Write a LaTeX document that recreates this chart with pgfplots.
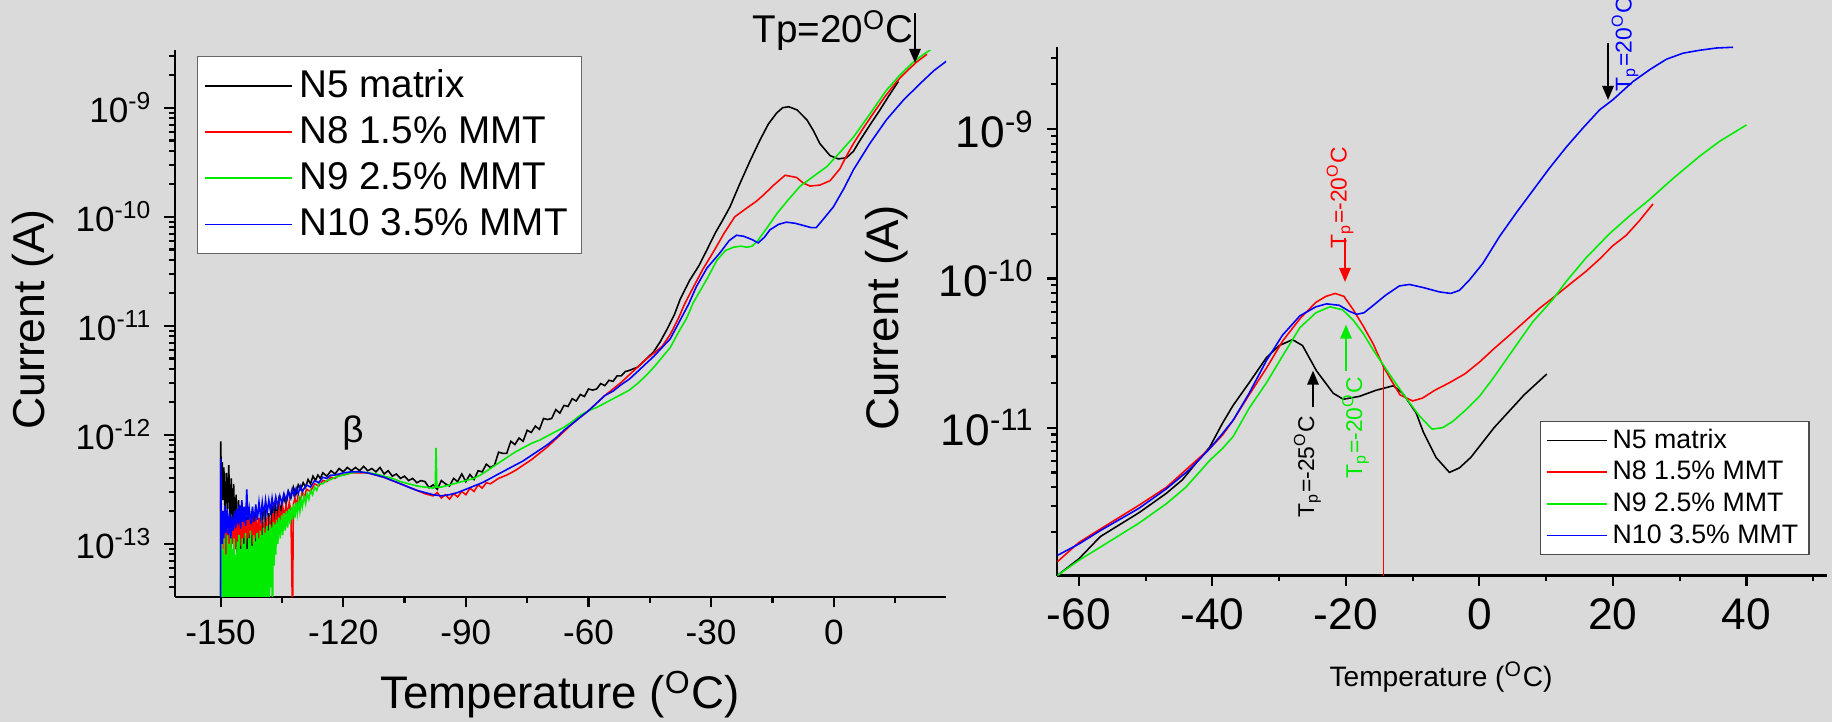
\documentclass[border=0pt]{standalone}
\usepackage{pgfplots}
\pgfplotsset{compat=1.18}
\usepackage{fontspec}
\setmainfont{Liberation Sans}
\usetikzlibrary{arrows.meta}
\definecolor{bgc}{RGB}{218,218,218}
\definecolor{cR}{RGB}{255,0,0}
\definecolor{cG}{RGB}{0,235,0}
\definecolor{cB}{RGB}{0,0,255}
\pgfplotsset{
  tscstyle/.style={
    scale only axis,
    axis x line*=bottom, axis y line*=left,
    axis line style={line width=0.6pt},
    tick align=outside,
    major tick length=3pt, minor tick length=1.7pt,
    every tick/.style={line width=0.6pt, black},
    clip mode=individual,
    legend cell align=left,
    no markers,
  }
}
\begin{document}
\begin{tikzpicture}
\path[use as bounding box, fill=bgc] (0,0) rectangle (18.32,7.22);
% ---------------- LEFT PANEL ----------------
\begin{axis}[ymode=log, tscstyle,
  at={(1.75cm,1.253cm)}, anchor=south west,
  width=7.71cm, height=5.467cm,
  xmin=-161.15, xmax=27.45, ymin=3.27e-14, ymax=3.38e-9,
  xtick={-150,-120,-90,-60,-30,0}, xticklabels={-150,-120,-90,-60,-30,0},
  minor xtick={-135,-105,-75,-45,-15,15},
  ytick={1e-13,1e-12,1e-11,1e-10,1e-9},
  yticklabels={{10\textsuperscript{-13}},{10\textsuperscript{-12}},{10\textsuperscript{-11}},{10\textsuperscript{-10}},{10\textsuperscript{-9}}},
  minor ytick={4e-14,5e-14,6e-14,7e-14,8e-14,9e-14,2e-13,3e-13,4e-13,5e-13,6e-13,7e-13,8e-13,9e-13,2e-12,3e-12,4e-12,5e-12,6e-12,7e-12,8e-12,9e-12,2e-11,3e-11,4e-11,5e-11,6e-11,7e-11,8e-11,9e-11,2e-10,3e-10,4e-10,5e-10,6e-10,7e-10,8e-10,9e-10,2e-9,3e-9},
  ticklabel style={font=\fontsize{10}{12}\selectfont},
  xlabel={Temperature (\textsuperscript{O}C)},
  xlabel style={at={(axis description cs:0.4994,-0.179)}, anchor=center, font=\fontsize{13}{15}\selectfont},
  ylabel={Current (A)},
  ylabel style={at={(axis description cs:-0.184,0.507)}, anchor=center, font=\fontsize{12.7}{15}\selectfont},
  legend style={at={(0.0281,0.989)}, anchor=north west, draw=black!60, fill=white,
    font=\fontsize{11}{13}\selectfont, inner xsep=2pt, inner ysep=1.7pt, row sep=0pt,
    nodes={inner xsep=1.8pt, inner ysep=1.67pt, text height=8.2pt, text depth=1.6pt}},
  legend image code/.code={\draw[#1] (0cm,0cm) -- (0.87cm,0cm);},
]
\addplot[black, line width=0.45pt] coordinates {
(-150.0,2e-14) (-149.95,8.71e-13) (-149.8,2.82e-13) (-149.6,5.62e-13) (-149.4,2.51e-13) (-149.2,5.01e-13) (-148.9,1.78e-13) (-148.6,4.47e-13) (-148.3,2.09e-13) (-148.0,5.25e-13) (-147.7,1.58e-13) (-147.4,3.98e-13) (-147.1,1.41e-13) (-146.8,3.55e-13) (-146.5,1.12e-13) (-146.2,2.82e-13) (-145.9,7.94e-14) (-145.6,2.51e-13) (-145.3,5.01e-14) (-145.0,2.24e-13) (-144.6,2e-14) (-144.3,2.00e-13) (-144.0,6.31e-14) (-143.6,1.78e-13) (-143.2,2e-14) (-142.9,2.00e-13) (-142.5,5.01e-14) (-142.2,1.78e-13) (-141.8,2e-14) (-141.4,1.91e-13) (-141.0,6.31e-14) (-140.6,1.66e-13) (-140.2,2e-14) (-139.8,2.00e-13) (-139.4,7.94e-14) (-139.0,2.09e-13) (-138.6,2e-14) (-138.2,1.91e-13) (-137.8,1.00e-13) (-137.4,2.24e-13) (-137.0,1.26e-13) (-136.6,2.40e-13) (-136.2,1.58e-13) (-135.8,2.51e-13) (-135.2,2.00e-13) (-134.6,2.75e-13) (-134.0,2.29e-13) (-133.4,3.02e-13) (-132.8,2.63e-13) (-132.2,3.31e-13) (-131.6,2.82e-13) (-131.0,3.47e-13) (-130.4,3.16e-13) (-129.8,3.63e-13) (-129.2,3.31e-13) (-128.6,3.89e-13) (-128.0,3.55e-13) (-127.4,4.17e-13) (-126.8,3.80e-13) (-126.2,4.27e-13) (-125.6,3.98e-13) (-125.0,4.47e-13) (-124.0,4.17e-13) (-123.0,4.68e-13) (-122.0,4.37e-13) (-121.0,4.90e-13) (-120.0,4.57e-13) (-119.0,5.01e-13) (-118.0,4.68e-13) (-117.0,5.01e-13) (-116.0,4.68e-13) (-115.0,5.13e-13) (-114.0,4.68e-13) (-113.0,4.90e-13) (-112.0,4.57e-13) (-111.0,5.01e-13) (-110.0,4.37e-13) (-109.0,4.68e-13) (-108.0,4.17e-13) (-107.0,4.37e-13) (-106.0,3.98e-13) (-105.0,4.17e-13) (-104.0,3.80e-13) (-103.0,3.98e-13) (-102.0,3.63e-13) (-101.0,3.80e-13) (-100.0,3.72e-13) (-99.0,3.27e-13) (-98.0,3.47e-13) (-97.0,3.16e-13) (-96.0,3.80e-13) (-95.0,3.55e-13) (-94.0,3.39e-13) (-93.0,3.98e-13) (-92.0,3.72e-13) (-91.0,4.37e-13) (-90.0,3.72e-13) (-89.0,4.32e-13) (-88.0,3.89e-13) (-87.0,4.68e-13) (-86.0,4.57e-13) (-85.0,5.37e-13) (-84.0,5.01e-13) (-83.0,5.25e-13) (-82.0,6.92e-13) (-81.0,6.76e-13) (-80.0,6.76e-13) (-79.0,8.71e-13) (-78.0,8.13e-13) (-77.0,9.33e-13) (-76.0,8.71e-13) (-75.0,1.10e-12) (-74.0,1.05e-12) (-73.0,1.20e-12) (-72.0,1.12e-12) (-71.0,1.41e-12) (-70.0,1.38e-12) (-69.0,1.41e-12) (-68.0,1.70e-12) (-67.0,1.58e-12) (-66.0,1.86e-12) (-65.0,1.82e-12) (-64.0,2.14e-12) (-63.0,2.04e-12) (-62.0,2.34e-12) (-61.0,2.24e-12) (-60.0,2.63e-12) (-59.0,2.57e-12) (-58.0,2.63e-12) (-57.0,2.95e-12) (-56.0,2.82e-12) (-55.0,3.16e-12) (-54.0,3.09e-12) (-53.0,3.47e-12) (-52.0,3.47e-12) (-51.0,3.80e-12) (-50.0,3.89e-12) (-48.0,4.17e-12) (-47.4,4.37e-12) (-46.0,4.90e-12) (-44.1,5.75e-12) (-42.5,7.08e-12) (-40.9,9.12e-12) (-39.0,1.26e-11) (-37.6,1.74e-11) (-35.2,2.63e-11) (-33.0,3.55e-11) (-31.1,4.90e-11) (-29.0,7.08e-11) (-27.0,9.55e-11) (-25.4,1.23e-10) (-23.0,2.00e-10) (-20.5,3.24e-10) (-18.1,5.01e-10) (-16.0,7.08e-10) (-14.0,8.91e-10) (-12.5,1.00e-9) (-11.0,1.02e-9) (-9.0,9.55e-10) (-6.6,7.76e-10) (-5.0,6.17e-10) (-3.4,4.68e-10) (-0.9,3.63e-10) (1.1,3.39e-10) (3.1,3.47e-10) (4.8,3.98e-10) (6.4,5.01e-10) (9.0,7.08e-10) (11.3,9.55e-10) (13.5,1.29e-9) (15.8,1.74e-9)
};
\addlegendentry{N5 matrix}
\addplot[cR, line width=0.45pt] coordinates {
(-150.0,2.51e-13) (-149.8,1.26e-13) (-149.6,2.00e-13) (-149.3,7.94e-14) (-149.0,1.58e-13) (-148.7,7.08e-14) (-148.4,1.41e-13) (-148.1,8.91e-14) (-147.8,1.58e-13) (-147.5,7.94e-14) (-147.2,1.41e-13) (-146.9,1.00e-13) (-146.6,1.51e-13) (-146.3,8.91e-14) (-146.0,1.58e-13) (-145.7,1.05e-13) (-145.4,1.66e-13) (-145.1,9.55e-14) (-144.8,1.58e-13) (-144.5,1.12e-13) (-144.2,1.74e-13) (-143.9,1.00e-13) (-143.6,1.66e-13) (-143.3,1.12e-13) (-143.0,1.82e-13) (-142.7,1.20e-13) (-142.4,1.74e-13) (-142.1,1.00e-13) (-141.8,1.82e-13) (-141.5,1.12e-13) (-141.2,1.78e-13) (-140.9,8.91e-14) (-140.6,1.74e-13) (-140.3,7.08e-14) (-140.0,1.66e-13) (-139.6,2e-14) (-139.3,1.58e-13) (-139.0,5.01e-14) (-138.7,1.74e-13) (-138.3,2e-14) (-138.0,1.78e-13) (-137.6,1.00e-13) (-137.2,1.91e-13) (-136.8,1.26e-13) (-136.4,2.00e-13) (-136.0,1.41e-13) (-135.6,2.09e-13) (-135.2,1.58e-13) (-134.8,2.19e-13) (-134.4,1.74e-13) (-134.0,2.29e-13) (-133.6,1.82e-13) (-133.2,2.40e-13) (-132.8,2.00e-13) (-132.4,2e-14) (-132.2,2.29e-13) (-131.8,2.63e-13) (-131.4,2.19e-13) (-131.0,2.82e-13) (-130.5,2.40e-13) (-130.0,3.02e-13) (-129.5,2.63e-13) (-129.0,3.16e-13) (-128.0,3.02e-13) (-127.0,3.55e-13) (-126.0,3.39e-13) (-125.0,3.80e-13) (-124.0,3.72e-13) (-123.0,4.07e-13) (-122.0,3.98e-13) (-121.0,4.27e-13) (-120.0,4.27e-13) (-118.0,4.47e-13) (-116.0,4.47e-13) (-114.0,4.47e-13) (-112.0,4.27e-13) (-110.0,4.07e-13) (-108.0,3.80e-13) (-106.0,3.55e-13) (-104.0,3.31e-13) (-102.0,3.09e-13) (-100.0,2.88e-13) (-98.0,2.75e-13) (-97.0,2.95e-13) (-96.0,2.63e-13) (-95.0,2.82e-13) (-94.0,2.57e-13) (-93.0,2.88e-13) (-92.0,2.69e-13) (-91.0,3.02e-13) (-90.0,2.82e-13) (-89.0,3.24e-13) (-88.0,3.02e-13) (-87.0,3.47e-13) (-86.0,3.24e-13) (-85.0,3.63e-13) (-84.0,3.55e-13) (-82.0,3.98e-13) (-80.0,4.27e-13) (-78.0,4.68e-13) (-76.0,5.25e-13) (-74.0,5.89e-13) (-72.0,6.76e-13) (-70.0,7.76e-13) (-68.0,9.12e-13) (-66.0,1.07e-12) (-64.0,1.26e-12) (-62.0,1.45e-12) (-60.0,1.66e-12) (-58.0,1.95e-12) (-56.0,2.29e-12) (-54.0,2.63e-12) (-52.0,3.02e-12) (-50.0,3.55e-12) (-48.0,4.17e-12) (-46.0,4.90e-12) (-44.0,5.62e-12) (-42.0,6.46e-12) (-40.0,8.32e-12) (-38.0,1.17e-11) (-36.5,1.58e-11) (-34.4,2.24e-11) (-32.0,3.31e-11) (-29.4,4.79e-11) (-26.8,7.08e-11) (-24.2,1.00e-10) (-21.3,1.20e-10) (-19.0,1.38e-10) (-17.2,1.58e-10) (-14.7,1.95e-10) (-11.9,2.40e-10) (-9.1,2.29e-10) (-7.5,2.04e-10) (-5.8,1.91e-10) (-3.4,1.95e-10) (-0.9,2.14e-10) (1.5,2.75e-10) (3.0,3.55e-10) (4.8,4.68e-10) (7.0,6.31e-10) (9.7,8.91e-10) (12.5,1.26e-9) (15.4,1.74e-9) (18.0,2.19e-9) (20.3,2.63e-9) (22.8,3.09e-9)
};
\addlegendentry{N8 1.5\% MMT}
\addplot[cG, line width=0.45pt] coordinates {
(-150.0,2e-14) (-149.9,1.12e-13) (-149.7,2e-14) (-149.5,8.91e-14) (-149.3,2e-14) (-149.1,1.26e-13) (-148.9,2e-14) (-148.7,7.94e-14) (-148.5,2e-14) (-148.3,1.20e-13) (-148.1,2e-14) (-147.9,1.00e-13) (-147.7,2e-14) (-147.5,1.32e-13) (-147.3,2e-14) (-147.1,8.91e-14) (-146.9,2e-14) (-146.7,1.12e-13) (-146.5,2e-14) (-146.3,7.94e-14) (-146.1,2e-14) (-145.9,1.05e-13) (-145.7,2e-14) (-145.5,1.20e-13) (-145.3,2e-14) (-145.1,8.91e-14) (-144.9,2e-14) (-144.7,1.12e-13) (-144.5,2e-14) (-144.3,1.00e-13) (-144.1,2e-14) (-143.9,1.26e-13) (-143.7,2e-14) (-143.5,8.91e-14) (-143.3,2e-14) (-143.1,1.12e-13) (-142.9,2e-14) (-142.7,1.32e-13) (-142.5,2e-14) (-142.3,9.55e-14) (-142.1,2e-14) (-141.9,1.20e-13) (-141.7,2e-14) (-141.5,1.05e-13) (-141.3,2e-14) (-141.1,1.26e-13) (-140.9,2e-14) (-140.7,1.12e-13) (-140.5,2e-14) (-140.3,1.32e-13) (-140.1,2e-14) (-139.9,1.20e-13) (-139.7,2e-14) (-139.5,1.41e-13) (-139.3,2e-14) (-139.1,1.26e-13) (-138.9,2e-14) (-138.7,1.45e-13) (-138.5,2e-14) (-138.3,1.32e-13) (-138.1,2e-14) (-137.9,1.51e-13) (-137.7,3.98e-14) (-137.5,1.41e-13) (-137.3,2e-14) (-137.1,1.58e-13) (-136.9,6.31e-14) (-136.7,1.51e-13) (-136.5,7.94e-14) (-136.3,1.66e-13) (-136.0,1.00e-13) (-135.7,1.74e-13) (-135.4,1.12e-13) (-135.1,1.82e-13) (-134.8,1.20e-13) (-134.5,1.91e-13) (-134.2,1.32e-13) (-133.9,2.00e-13) (-133.6,1.41e-13) (-133.3,2.09e-13) (-133.0,1.51e-13) (-132.7,2.19e-13) (-132.4,1.66e-13) (-132.1,2.29e-13) (-131.8,1.74e-13) (-131.5,2.40e-13) (-131.2,1.91e-13) (-130.9,2.51e-13) (-130.6,2.00e-13) (-130.3,2.57e-13) (-130.0,2.19e-13) (-129.6,2.75e-13) (-129.2,2.34e-13) (-128.8,2.88e-13) (-128.4,2.57e-13) (-128.0,3.09e-13) (-127.5,2.82e-13) (-127.0,3.31e-13) (-126.5,3.09e-13) (-126.0,3.55e-13) (-125.0,3.55e-13) (-124.0,3.80e-13) (-123.0,3.89e-13) (-122.0,4.07e-13) (-121.0,4.17e-13) (-120.0,4.27e-13) (-118.0,4.47e-13) (-116.0,4.57e-13) (-114.0,4.47e-13) (-112.0,4.37e-13) (-110.0,4.17e-13) (-108.0,3.98e-13) (-106.0,3.72e-13) (-104.0,3.55e-13) (-102.0,3.39e-13) (-100.0,3.31e-13) (-98.0,3.24e-13) (-97.5,3.31e-13) (-97.3,7.59e-13) (-97.1,3.31e-13) (-96.0,3.31e-13) (-94.0,3.47e-13) (-92.0,3.63e-13) (-90.0,3.80e-13) (-88.0,3.98e-13) (-86.0,4.37e-13) (-84.0,4.90e-13) (-82.0,5.50e-13) (-80.0,6.17e-13) (-78.0,6.92e-13) (-76.0,7.59e-13) (-74.0,8.32e-13) (-72.0,8.91e-13) (-70.0,9.77e-13) (-68.0,1.07e-12) (-66.0,1.17e-12) (-64.0,1.32e-12) (-62.0,1.51e-12) (-60.0,1.66e-12) (-58.0,1.78e-12) (-56.0,1.95e-12) (-54.0,2.14e-12) (-52.0,2.34e-12) (-50.0,2.57e-12) (-48.0,2.95e-12) (-46.0,3.47e-12) (-44.0,4.17e-12) (-42.0,5.13e-12) (-40.0,6.31e-12) (-38.0,8.71e-12) (-36.0,1.17e-11) (-34.4,1.62e-11) (-33.0,2.00e-11) (-31.0,2.69e-11) (-28.6,3.98e-11) (-26.5,4.90e-11) (-24.5,5.25e-11) (-22.8,5.37e-11) (-21.2,5.25e-11) (-20.0,5.37e-11) (-18.8,5.89e-11) (-16.3,7.94e-11) (-13.9,1.07e-10) (-11.0,1.45e-10) (-8.2,1.91e-10) (-5.0,2.34e-10) (-1.7,2.88e-10) (1.5,3.89e-10) (4.8,5.37e-10) (8.8,8.71e-10) (12.9,1.45e-9) (16.2,2.00e-9) (19.5,2.63e-9) (22.0,3.09e-9) (24.0,3.47e-9)
};
\addlegendentry{N9 2.5\% MMT}
\addplot[cB, line width=0.45pt] coordinates {
(-150.0,2e-14) (-149.95,6.03e-13) (-149.8,1.58e-13) (-149.6,1.00e-13) (-149.4,2.00e-13) (-149.2,1.12e-13) (-149.0,2.24e-13) (-148.7,1.26e-13) (-148.4,2.09e-13) (-148.1,1.20e-13) (-147.8,1.91e-13) (-147.5,1.12e-13) (-147.2,1.78e-13) (-146.9,1.32e-13) (-146.6,2.00e-13) (-146.3,1.41e-13) (-146.0,2.09e-13) (-145.7,1.51e-13) (-145.4,2.29e-13) (-145.1,1.38e-13) (-144.8,2.51e-13) (-144.5,1.58e-13) (-144.2,2.19e-13) (-143.9,1.45e-13) (-143.6,3.16e-13) (-143.3,1.66e-13) (-143.0,2.09e-13) (-142.6,1.51e-13) (-142.2,2.19e-13) (-141.8,1.58e-13) (-141.4,2.29e-13) (-141.0,1.66e-13) (-140.6,2.40e-13) (-140.2,1.74e-13) (-139.8,2.40e-13) (-139.4,1.82e-13) (-139.0,2.51e-13) (-138.6,1.91e-13) (-138.2,2.51e-13) (-137.8,2.00e-13) (-137.4,2.63e-13) (-137.0,2.09e-13) (-136.5,2.69e-13) (-136.0,2.19e-13) (-135.5,2.75e-13) (-135.0,2.34e-13) (-134.5,2.88e-13) (-134.0,2.51e-13) (-133.5,3.02e-13) (-133.0,2.63e-13) (-132.5,3.16e-13) (-132.0,2.75e-13) (-131.5,3.24e-13) (-131.0,2.88e-13) (-130.5,3.39e-13) (-130.0,3.02e-13) (-129.0,3.47e-13) (-128.0,3.31e-13) (-127.0,3.80e-13) (-126.0,3.63e-13) (-125.0,4.07e-13) (-124.0,3.98e-13) (-123.0,4.27e-13) (-122.0,4.27e-13) (-120.0,4.47e-13) (-118.0,4.57e-13) (-116.0,4.57e-13) (-114.0,4.47e-13) (-112.0,4.27e-13) (-110.0,4.07e-13) (-108.0,3.80e-13) (-106.0,3.55e-13) (-104.0,3.31e-13) (-102.0,3.09e-13) (-100.0,2.95e-13) (-98.0,2.82e-13) (-96.0,2.75e-13) (-94.0,2.82e-13) (-92.0,2.95e-13) (-90.0,3.16e-13) (-88.0,3.39e-13) (-86.0,3.63e-13) (-84.0,3.98e-13) (-82.0,4.37e-13) (-80.0,4.79e-13) (-78.0,5.25e-13) (-76.0,5.75e-13) (-74.0,6.46e-13) (-72.0,7.24e-13) (-70.0,8.13e-13) (-68.0,9.33e-13) (-66.0,1.10e-12) (-64.0,1.26e-12) (-62.0,1.45e-12) (-60.0,1.66e-12) (-58.0,1.95e-12) (-56.0,2.29e-12) (-54.0,2.51e-12) (-52.0,2.88e-12) (-50.0,3.24e-12) (-48.0,3.80e-12) (-46.0,4.47e-12) (-44.0,5.25e-12) (-42.0,6.31e-12) (-40.0,7.59e-12) (-38.0,1.05e-11) (-35.5,1.58e-11) (-33.6,2.29e-11) (-31.0,3.39e-11) (-27.8,4.68e-11) (-25.6,6.03e-11) (-23.8,6.76e-11) (-22.0,6.61e-11) (-20.0,6.17e-11) (-18.5,5.75e-11) (-17.0,6.46e-11) (-15.6,7.59e-11) (-13.5,8.51e-11) (-11.6,8.91e-11) (-9.5,8.71e-11) (-7.5,8.32e-11) (-5.5,7.94e-11) (-4.3,7.94e-11) (-2.5,9.55e-11) (-0.1,1.23e-10) (2.5,1.82e-10) (4.8,2.69e-10) (8.8,4.68e-10) (12.9,7.76e-10) (17.0,1.17e-9) (21.1,1.66e-9) (24.5,2.19e-9) (28.0,2.75e-9)
};
\addlegendentry{N10 3.5\% MMT}
\end{axis}
% ---------------- RIGHT PANEL ----------------
\begin{axis}[ymode=log, tscstyle,
  at={(10.573cm,1.465cm)}, anchor=south west,
  width=7.697cm, height=5.288cm,
  xmin=-63.24, xmax=52.07, ymin=1.02e-12, ymax=3.58e-9,
  xtick={-60,-40,-20,0,20,40}, xticklabels={-60,-40,-20,0,20,40},
  minor xtick={-50,-30,-10,10,30,50},
  ytick={1e-11,1e-10,1e-9},
  yticklabels={{10\textsuperscript{-11}},{10\textsuperscript{-10}},{10\textsuperscript{-9}}},
  minor ytick={2e-12,3e-12,4e-12,5e-12,6e-12,7e-12,8e-12,9e-12,2e-11,3e-11,4e-11,5e-11,6e-11,7e-11,8e-11,9e-11,2e-10,3e-10,4e-10,5e-10,6e-10,7e-10,8e-10,9e-10,2e-9,3e-9},
  ticklabel style={font=\fontsize{12.6}{15}\selectfont},
  xlabel={Temperature (\textsuperscript{O}C)},
  xlabel style={at={(axis description cs:0.4985,-0.192)}, anchor=center, font=\fontsize{8}{10}\selectfont},
  ylabel={Current (A)},
  ylabel style={at={(axis description cs:-0.2218,0.487)}, anchor=center, font=\fontsize{13}{15}\selectfont},
  legend style={at={(0.6265,0.2927)}, anchor=north west, draw=black!70, fill=white,
    font=\fontsize{7.6}{9}\selectfont, inner xsep=1.6pt, inner ysep=0.95pt, row sep=0pt,
    nodes={inner xsep=1.5pt, inner ysep=1.1pt, text height=5.6pt, text depth=1.2pt}},
  legend image code/.code={\draw[#1] (0cm,0cm) -- (0.6cm,0cm);},
]
\addplot[black, line width=0.45pt] coordinates {
(-63.24,1.02e-12) (-60,1.32e-12) (-56.8,1.86e-12) (-51,2.69e-12) (-46.9,3.63e-12) (-44.5,4.47e-12) (-42.5,5.75e-12) (-40.4,7.41e-12) (-38.5,1.07e-11) (-36.9,1.41e-11) (-34.5,2.00e-11) (-31.9,2.95e-11) (-30,3.55e-11) (-28.0,3.89e-11) (-26.5,3.55e-11) (-24.4,2.40e-11) (-21.9,1.70e-11) (-20.4,1.55e-11) (-18.0,1.62e-11) (-15.5,1.78e-11) (-12.9,1.91e-11) (-11.5,1.70e-11) (-9.5,1.26e-11) (-8.4,9.33e-12) (-6.5,6.31e-12) (-4.5,5.01e-12) (-3,5.37e-12) (-1.3,6.31e-12) (2.2,1.00e-11) (6.7,1.66e-11) (10.1,2.29e-11)
};
\addlegendentry{N5 matrix}
\addplot[cR, line width=0.45pt] coordinates {
(-63.24,1.26e-12) (-60,1.70e-12) (-56.8,2.09e-12) (-51,3.02e-12) (-46.9,3.98e-12) (-43.4,5.50e-12) (-40.4,7.24e-12) (-38.5,8.91e-12) (-36.9,1.12e-11) (-34.5,1.66e-11) (-31.9,2.51e-11) (-29.5,3.80e-11) (-26.9,5.37e-11) (-24.5,6.92e-11) (-23,7.59e-11) (-21.6,7.94e-11) (-20.3,7.59e-11) (-18.9,6.17e-11) (-17.4,4.79e-11) (-15.9,3.63e-11) (-14.4,2.57e-11) (-13,2.00e-11) (-11.9,1.66e-11) (-10,1.51e-11) (-8.5,1.58e-11) (-6.7,1.78e-11) (-4.5,2.00e-11) (-2.2,2.29e-11) (0,2.75e-11) (2.2,3.39e-11) (4.5,4.17e-11) (7,5.25e-11) (9,6.31e-11) (11,7.41e-11) (13.5,9.12e-11) (16,1.12e-10) (18,1.35e-10) (20,1.66e-10) (22,1.95e-10) (24,2.45e-10) (26,3.16e-10)
};
\addlegendentry{N8 1.5\% MMT}
\addplot[cG, line width=0.45pt] coordinates {
(-63.24,1.02e-12) (-60,1.29e-12) (-56.8,1.58e-12) (-51,2.29e-12) (-46.9,3.09e-12) (-44,3.98e-12) (-42,5.01e-12) (-40.4,6.03e-12) (-38.5,7.24e-12) (-36.9,8.71e-12) (-34.5,1.35e-11) (-31.9,2.00e-11) (-29.5,3.02e-11) (-26.9,4.68e-11) (-24.5,5.89e-11) (-22.4,6.46e-11) (-20.5,6.17e-11) (-18.9,5.25e-11) (-17.4,4.27e-11) (-15.9,3.31e-11) (-14.4,2.63e-11) (-12.9,2.09e-11) (-11,1.58e-11) (-9,1.20e-11) (-7.1,9.77e-12) (-5.5,1.00e-11) (-4,1.10e-11) (-2,1.32e-11) (0,1.62e-11) (2.2,2.19e-11) (5,3.31e-11) (8,5.13e-11) (11,7.24e-11) (13,9.55e-11) (16,1.38e-10) (19.5,2.00e-10) (22.5,2.63e-10) (25.5,3.39e-10) (29,4.68e-10) (33,6.61e-10) (36,8.32e-10) (40,1.07e-9)
};
\addlegendentry{N9 2.5\% MMT}
\addplot[cB, line width=0.45pt] coordinates {
(-63.24,1.39e-12) (-60,1.66e-12) (-56.8,2.04e-12) (-51,2.88e-12) (-46.9,3.89e-12) (-43.4,5.25e-12) (-40.4,7.24e-12) (-38.5,9.12e-12) (-36.9,1.12e-11) (-34.5,1.70e-11) (-31.9,2.82e-11) (-29.5,4.17e-11) (-26.9,5.62e-11) (-24.5,6.46e-11) (-22.9,6.76e-11) (-21,6.61e-11) (-19.5,6.03e-11) (-18.4,5.75e-11) (-17.3,5.89e-11) (-15.9,6.61e-11) (-14,7.76e-11) (-12,8.91e-11) (-10.5,9.12e-11) (-8.5,8.71e-11) (-6,8.13e-11) (-4.3,7.94e-11) (-3,8.32e-11) (-1.5,9.77e-11) (0.5,1.26e-10) (3,1.91e-10) (5.5,2.75e-10) (8,3.89e-10) (10.5,5.50e-10) (13,7.59e-10) (15.5,1.02e-9) (18,1.35e-9) (20,1.58e-9) (23,2.09e-9) (25.5,2.51e-9) (28,2.95e-9) (30.5,3.24e-9) (33,3.39e-9) (35.5,3.51e-9) (38,3.55e-9)
};
\addlegendentry{N10 3.5\% MMT}
\addplot[cR, line width=0.45pt, forget plot] coordinates {(-14.4,1.02e-12) (-14.4,2.57e-11)};
\end{axis}
% ---------------- annotations ----------------
\node[anchor=base west, font=\fontsize{11}{13}\selectfont] at (7.40,6.79) {Tp=20\textsuperscript{O}C};
\draw[line width=0.6pt, -{Triangle[length=4pt,width=3.2pt]}] (9.15,7.09) -- (9.15,6.59);
\node[font=\fontsize{10.5}{12}\selectfont] at (3.53,2.89) {β};
\node[rotate=90, text=cR, font=\fontsize{6.5}{7}\selectfont] at (13.40,5.245) {T\textsubscript{p}=-20\textsuperscript{O}C};
\draw[cR, line width=0.6pt, -{Triangle[length=4pt,width=3.2pt]}] (13.45,4.84) -- (13.45,4.40);
\node[rotate=90, text=cG, font=\fontsize{6.5}{7}\selectfont] at (13.555,2.945) {T\textsubscript{p}=-20\textsuperscript{O}C};
\draw[cG, line width=0.6pt, -{Triangle[length=4pt,width=3.2pt]}] (13.46,3.514) -- (13.46,3.974);
\node[rotate=90, text=black, font=\fontsize{6.5}{7}\selectfont] at (13.075,2.553) {T\textsubscript{p}=-25\textsuperscript{O}C};
\draw[black, line width=0.6pt, -{Triangle[length=4pt,width=3.2pt]}] (13.13,3.145) -- (13.13,3.514);
\node[rotate=90, text=cB, font=\fontsize{6.5}{7}\selectfont] at (16.25,6.78) {T\textsubscript{p}=20\textsuperscript{O}C};
\draw[black, line width=0.6pt, -{Triangle[length=4pt,width=3.2pt]}] (16.08,6.79) -- (16.08,6.22);
\end{tikzpicture}
\end{document}
